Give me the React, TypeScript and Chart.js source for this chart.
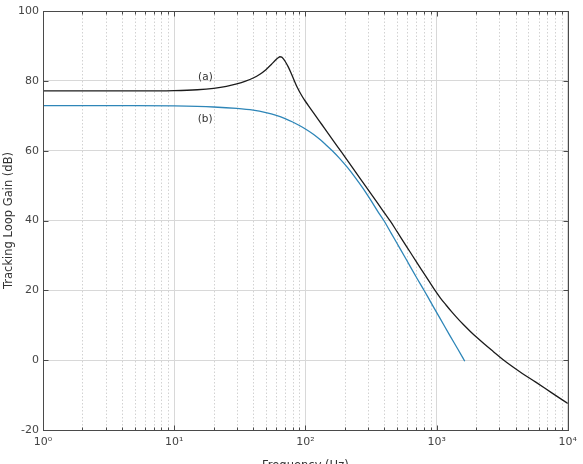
import { useEffect, useRef } from "react";
import { Chart, registerables } from "chart.js";

Chart.register(...registerables);

// Curve (a)
const freqA = [1, 5, 10, 15, 20, 25, 30, 35, 40, 45, 50, 55, 59, 62, 64, 66, 68, 70, 74, 78, 82, 87, 92, 98, 105, 115, 127, 140, 158, 178, 200, 230, 265, 305, 352, 400, 444, 500, 560, 630, 700, 780, 870, 973, 1070, 1180, 1300, 1450, 1600, 1800, 2000, 2300, 2700, 3200, 3800, 4500, 5700, 7500, 10000];
const gainA = [77.1, 77.1, 77.2, 77.45, 77.85, 78.4, 79.1, 79.9, 80.8, 81.9, 83.2, 84.7, 85.9, 86.6, 86.9, 86.8, 86.3, 85.6, 84.0, 82.1, 80.2, 78.0, 76.3, 74.6, 73.0, 70.9, 68.6, 66.4, 63.6, 60.9, 58.2, 55.0, 51.7, 48.5, 45.2, 42.2, 39.8, 36.8, 33.9, 30.9, 28.2, 25.5, 22.8, 20.0, 17.8, 15.8, 13.9, 11.9, 10.2, 8.3, 6.7, 4.7, 2.5, 0.2, -1.9, -3.8, -6.3, -9.3, -12.4];

// Curve (b)
const freqB = [1, 5, 10, 20, 30, 40, 50, 60, 70, 80, 90, 100, 115, 130, 145, 161, 180, 209, 240, 275, 314, 355, 396, 450, 500, 570, 630, 710, 800, 900, 1000, 1130, 1260, 1450, 1640];
const gainB = [72.9, 72.9, 72.8, 72.5, 72.1, 71.6, 70.9, 70.1, 69.2, 68.2, 67.2, 66.2, 64.7, 63.1, 61.5, 59.9, 58.0, 55.2, 52.3, 49.2, 45.9, 42.7, 40.0, 36.4, 33.4, 29.7, 26.8, 23.4, 20.1, 16.7, 13.7, 10.2, 7.1, 3.2, -0.3];

const xTickValues = [1, 10, 100, 1000, 10000];
const xTickLabels = ["10\u2070", "10\u00B9", "10\u00B2", "10\u00B3", "10\u2074"];
const yMin = -20;
const yMax = 100;
const yStep = 20;
const curveLabels = ["(a)", "(b)"];
// label anchor points in data units (frequency, gain)
const labelFreq = [17.3, 17.2];
const labelGain = [81.1, 69.0];

const FONT = "'DejaVu Sans', 'Liberation Sans', Arial, sans-serif";

const framePlugin = {
  id: "frame",
  beforeDatasetsDraw(chart: any) {
    const { ctx, chartArea, scales } = chart;
    const { top, bottom } = chartArea;
    const x = scales.x;
    ctx.save();
    ctx.strokeStyle = "#d2d2d2";
    ctx.lineWidth = 1;
    ctx.setLineDash([1.5, 2]);
    for (let d = 0; d < 4; d++) {
      for (let m = 2; m <= 9; m++) {
        const px = Math.round(x.getPixelForValue(m * Math.pow(10, d))) + 0.5;
        ctx.beginPath();
        ctx.moveTo(px, top);
        ctx.lineTo(px, bottom);
        ctx.stroke();
      }
    }
    ctx.restore();
  },
  afterDatasetsDraw(chart: any) {
    const { ctx, chartArea, scales } = chart;
    const { left, right, top, bottom } = chartArea;
    const x = scales.x;
    const y = scales.y;
    ctx.save();
    ctx.strokeStyle = "#4a4a4a";
    ctx.lineWidth = 1;
    ctx.setLineDash([]);
    const L = Math.round(left) + 0.5;
    const R = Math.round(right) + 0.5;
    const T = Math.round(top) + 0.5;
    const B = Math.round(bottom) + 0.5;
    ctx.strokeRect(L, T, R - L, B - T);
    // x ticks (inward, top and bottom)
    for (let d = 0; d <= 4; d++) {
      for (let m = 1; m <= 9; m++) {
        const v = m * Math.pow(10, d);
        if (v > 10000) break;
        const px = Math.round(x.getPixelForValue(v)) + 0.5;
        const len = m === 1 ? 5 : 3;
        ctx.beginPath();
        ctx.moveTo(px, B);
        ctx.lineTo(px, B - len);
        ctx.moveTo(px, T);
        ctx.lineTo(px, T + len);
        ctx.stroke();
      }
    }
    // y ticks (inward, left and right)
    for (let v = yMin; v <= yMax; v += yStep) {
      const py = Math.round(y.getPixelForValue(v)) + 0.5;
      ctx.beginPath();
      ctx.moveTo(L, py);
      ctx.lineTo(L + 5, py);
      ctx.moveTo(R, py);
      ctx.lineTo(R - 5, py);
      ctx.stroke();
    }
    // curve labels
    ctx.fillStyle = "#333";
    ctx.font = `10.5px ${FONT}`;
    ctx.textAlign = "center";
    ctx.textBaseline = "middle";
    curveLabels.forEach((t, i) => {
      ctx.fillText(t, x.getPixelForValue(labelFreq[i]), y.getPixelForValue(labelGain[i]));
    });
    ctx.restore();
  },
};

export default function App() {
  const ref = useRef<HTMLCanvasElement | null>(null);

  useEffect(() => {
    if (!ref.current) return;
    const chart = new Chart(ref.current, {
      type: "line",
      data: {
        datasets: [
          {
            label: "(a)",
            data: freqA.map((f, i) => ({ x: f, y: gainA[i] })),
            borderColor: "#1c1c1c",
            borderWidth: 1.3,
            pointRadius: 0,
            cubicInterpolationMode: "monotone",
            fill: false,
          },
          {
            label: "(b)",
            data: freqB.map((f, i) => ({ x: f, y: gainB[i] })),
            borderColor: "#2e86b8",
            borderWidth: 1.3,
            pointRadius: 0,
            cubicInterpolationMode: "monotone",
            fill: false,
          },
        ],
      },
      options: {
        animation: false,
        responsive: false,
        layout: { padding: { left: 0, right: 11, top: 11, bottom: 0 } },
        plugins: {
          legend: { display: false },
          tooltip: { enabled: false },
        },
        scales: {
          x: {
            type: "logarithmic",
            min: 1,
            max: 10000,
            afterBuildTicks: (s: any) => {
              s.ticks = xTickValues.map((v) => ({ value: v }));
            },
            afterFit: (s: any) => {
              s.height = 45;
            },
            ticks: {
              autoSkip: false,
              maxRotation: 0,
              padding: 6,
              color: "#444",
              font: { family: FONT, size: 11 },
              callback: (_v: any, i: number) => xTickLabels[i],
            },
            grid: { color: "#d8d8d8", drawTicks: false, lineWidth: 1 },
            border: { display: false },
            title: {
              display: true,
              text: "Frequency (Hz)",
              color: "#333",
              font: { family: FONT, size: 11.5 },
              padding: { top: 0, bottom: 2 },
            },
          },
          y: {
            type: "linear",
            min: yMin,
            max: yMax,
            afterFit: (s: any) => {
              s.width = 43;
            },
            ticks: {
              stepSize: yStep,
              padding: 4,
              color: "#444",
              font: { family: FONT, size: 11 },
            },
            grid: { color: "#d8d8d8", drawTicks: false, lineWidth: 1 },
            border: { display: false },
            title: {
              display: true,
              text: "Tracking Loop Gain (dB)",
              color: "#333",
              font: { family: FONT, size: 11.5 },
              padding: { top: 2, bottom: 0 },
            },
          },
        },
      },
      plugins: [framePlugin],
    } as any);
    return () => chart.destroy();
  }, []);

  return (
    <div style={{ position: "absolute", left: 0, top: 0, width: 583, height: 475, background: "#fff" }}>
      <canvas ref={ref} width={583} height={475} style={{ display: "block" }} />
    </div>
  );
}
